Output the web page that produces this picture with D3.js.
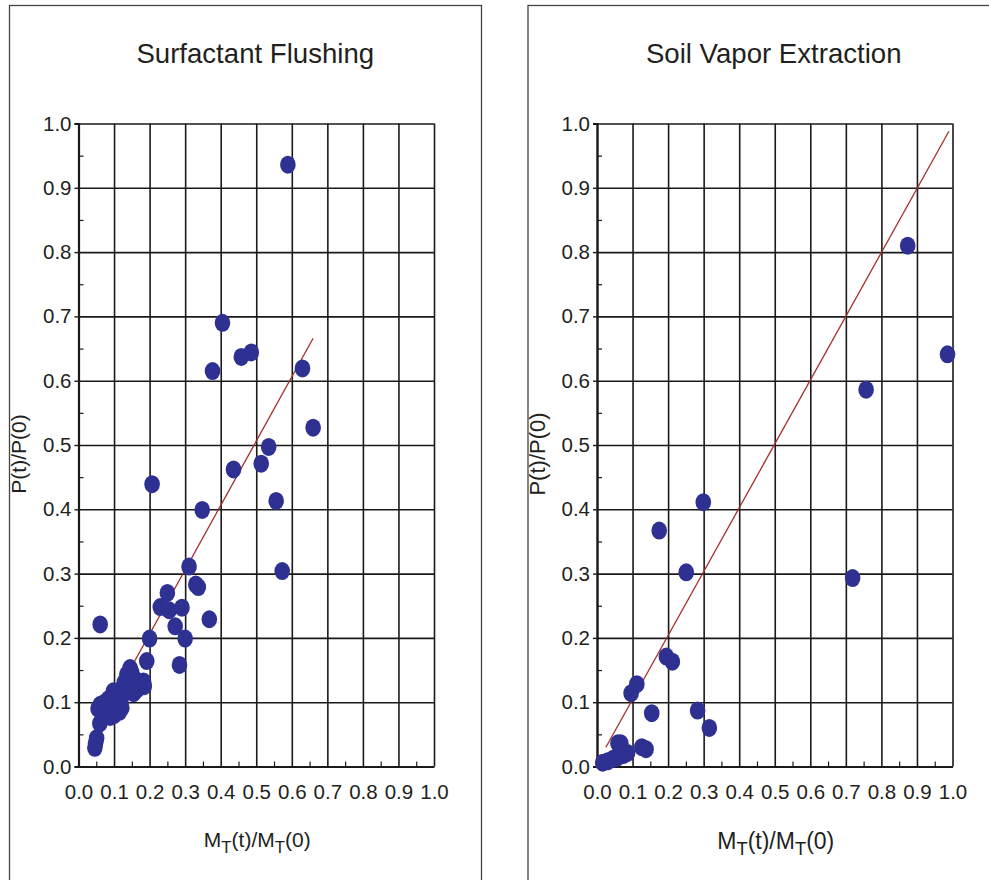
<!DOCTYPE html>
<html><head><meta charset="utf-8">
<script src="https://cdn.jsdelivr.net/npm/d3@7"></script>
<style>
body{margin:0;background:#fff}
svg{display:block}
text{font-family:"Liberation Sans",Arial,sans-serif;fill:#231f20}
</style>
</head><body>
<svg id="c" width="989" height="880"></svg>
<script>
// ---------- data ----------
const panelTitles = ["Surfactant Flushing", "Soil Vapor Extraction"];
const tickValues = [0, 0.1, 0.2, 0.3, 0.4, 0.5, 0.6, 0.7, 0.8, 0.9, 1.0];
const tickLabels = ["0.0","0.1","0.2","0.3","0.4","0.5","0.6","0.7","0.8","0.9","1.0"];
const minorTicks = [0.05, 0.15, 0.25, 0.35, 0.45, 0.55, 0.65, 0.75, 0.85, 0.95];

// Surfactant Flushing: [M_T(t)/M_T(0), P(t)/P(0)]
const surfactantPoints = [
  [0.589,0.936],[0.405,0.690],[0.458,0.637],[0.486,0.644],[0.377,0.615],[0.630,0.619],
  [0.660,0.527],[0.535,0.497],[0.514,0.471],[0.436,0.462],[0.207,0.439],[0.556,0.413],
  [0.348,0.399],[0.573,0.304],[0.311,0.311],[0.330,0.283],[0.337,0.279],[0.250,0.270],
  [0.230,0.248],[0.255,0.243],[0.291,0.247],[0.272,0.218],[0.300,0.199],[0.368,0.229],
  [0.061,0.221],[0.200,0.199],[0.284,0.158],[0.192,0.164],
  [0.145,0.153],[0.150,0.146],[0.136,0.143],[0.183,0.132],[0.185,0.125],[0.170,0.128],
  [0.160,0.135],[0.128,0.130],[0.124,0.122],[0.140,0.118],[0.155,0.114],[0.165,0.120],
  [0.098,0.117],[0.110,0.110],[0.120,0.105],[0.085,0.105],[0.075,0.100],[0.061,0.096],
  [0.095,0.098],[0.105,0.095],[0.122,0.091],[0.115,0.085],[0.089,0.077],[0.100,0.080],
  [0.070,0.085],[0.060,0.067],[0.051,0.044],[0.046,0.029],[0.048,0.036],[0.055,0.090]
];
const surfactantFit = [[0.05,0.056],[0.66,0.666]];

// Soil Vapor Extraction
const svePoints = [
  [0.874,0.810],[0.986,0.641],[0.757,0.586],[0.719,0.293],[0.299,0.411],[0.175,0.367],
  [0.251,0.302],[0.195,0.171],[0.212,0.163],[0.112,0.128],[0.096,0.114],[0.154,0.083],
  [0.283,0.087],[0.316,0.060],[0.126,0.030],[0.138,0.027],[0.059,0.036],
  [0.016,0.006],[0.030,0.008],[0.045,0.012],[0.058,0.014],[0.075,0.018],[0.086,0.021],[0.067,0.036]
];
const sveFit = [[0.025,0.030],[0.99,0.988]];

const panelPoints = [surfactantPoints, svePoints];
const panelFits = [surfactantFit, sveFit];
const xLabelSize = [21, 23];
const yLabelSize = [21, 22];

// ---------- drawing ----------
const svg = d3.select("#c");
const W = 355.5, H = 643;

[0, 1].forEach(i => {
  const ox = i === 0 ? 78.5 : 597;
  const oy = 123.5;
  const g = svg.append("g").attr("transform", `translate(${ox},${oy})`);
  const x = d3.scaleLinear().domain([0, 1]).range([0, W]);
  const y = d3.scaleLinear().domain([0, 1]).range([H, 0]);

  // frame
  svg.append("rect")
    .attr("x", ox - 69).attr("y", 5.5).attr("width", 472).attr("height", 900)
    .attr("fill", "none").attr("stroke", "#444").attr("stroke-width", 1.3);

  // grid
  const gx = g.append("g").attr("transform", `translate(0,${H})`)
    .call(d3.axisBottom(x).tickValues(tickValues).tickSize(-H).tickFormat(""));
  const gy = g.append("g")
    .call(d3.axisLeft(y).tickValues(tickValues).tickSize(-W).tickFormat(""));
  [gx, gy].forEach(a => {
    a.select(".domain").remove();
    a.selectAll("line").attr("stroke", "#1a1a1a").attr("stroke-width", 1.6);
  });

  // minor inward ticks
  const mx = g.append("g").attr("transform", `translate(0,${H})`)
    .call(d3.axisBottom(x).tickValues(minorTicks).tickSize(-5).tickFormat(""));
  const my = g.append("g")
    .call(d3.axisLeft(y).tickValues(minorTicks).tickSize(-5).tickFormat(""));
  [mx, my].forEach(a => {
    a.select(".domain").remove();
    a.selectAll("line").attr("stroke", "#1a1a1a").attr("stroke-width", 1.2);
  });

  // labelled axes
  const ax = g.append("g").attr("transform", `translate(0,${H})`)
    .call(d3.axisBottom(x).tickValues(tickValues).tickSize(0).tickPadding(18)
      .tickFormat((d, k) => tickLabels[k]));
  const ay = g.append("g")
    .call(d3.axisLeft(y).tickValues(tickValues).tickSize(4).tickPadding(3)
      .tickFormat((d, k) => tickLabels[k]));
  [ax, ay].forEach(a => {
    a.select(".domain").attr("stroke", "#1a1a1a").attr("stroke-width", 2.2);
    a.selectAll("line").attr("stroke", "#1a1a1a").attr("stroke-width", 1.4);
    a.selectAll("text").style("font-size", "20.5px")
      .style("font-family", '"Liberation Sans",Arial,sans-serif').attr("fill", "#231f20");
  });

  // regression line
  g.append("path")
    .datum(panelFits[i])
    .attr("d", d3.line().x(d => x(d[0])).y(d => y(d[1])))
    .attr("fill", "none").attr("stroke", "#a5302b").attr("stroke-width", 1.3);

  // points
  g.append("g").selectAll("ellipse").data(panelPoints[i]).join("ellipse")
    .attr("cx", d => x(d[0])).attr("cy", d => y(d[1]))
    .attr("rx", 7.8).attr("ry", 9).attr("fill", "#2e3192");

  // title
  svg.append("text").attr("x", ox + W / 2 - 1).attr("y", 63)
    .attr("text-anchor", "middle").style("font-size", "27.6px").text(panelTitles[i]);

  // x label
  const xl = svg.append("text").attr("x", ox + W / 2 + 1).attr("y", 847 + (i ? 2 : 0))
    .attr("text-anchor", "middle").style("font-size", xLabelSize[i] + "px");
  xl.append("tspan").text("M");
  xl.append("tspan").attr("dy", 6).style("font-size", "0.8em").text("T");
  xl.append("tspan").attr("dy", -6).text("(t)/M");
  xl.append("tspan").attr("dy", 6).style("font-size", "0.8em").text("T");
  xl.append("tspan").attr("dy", -6).text("(0)");

  // y label
  svg.append("text")
    .attr("transform", `translate(${ox - 60},${454}) rotate(-90)`)
    .attr("text-anchor", "middle").attr("dy", "0.35em")
    .style("font-size", yLabelSize[i] + "px").text("P(t)/P(0)");
});
</script>
</body></html>
